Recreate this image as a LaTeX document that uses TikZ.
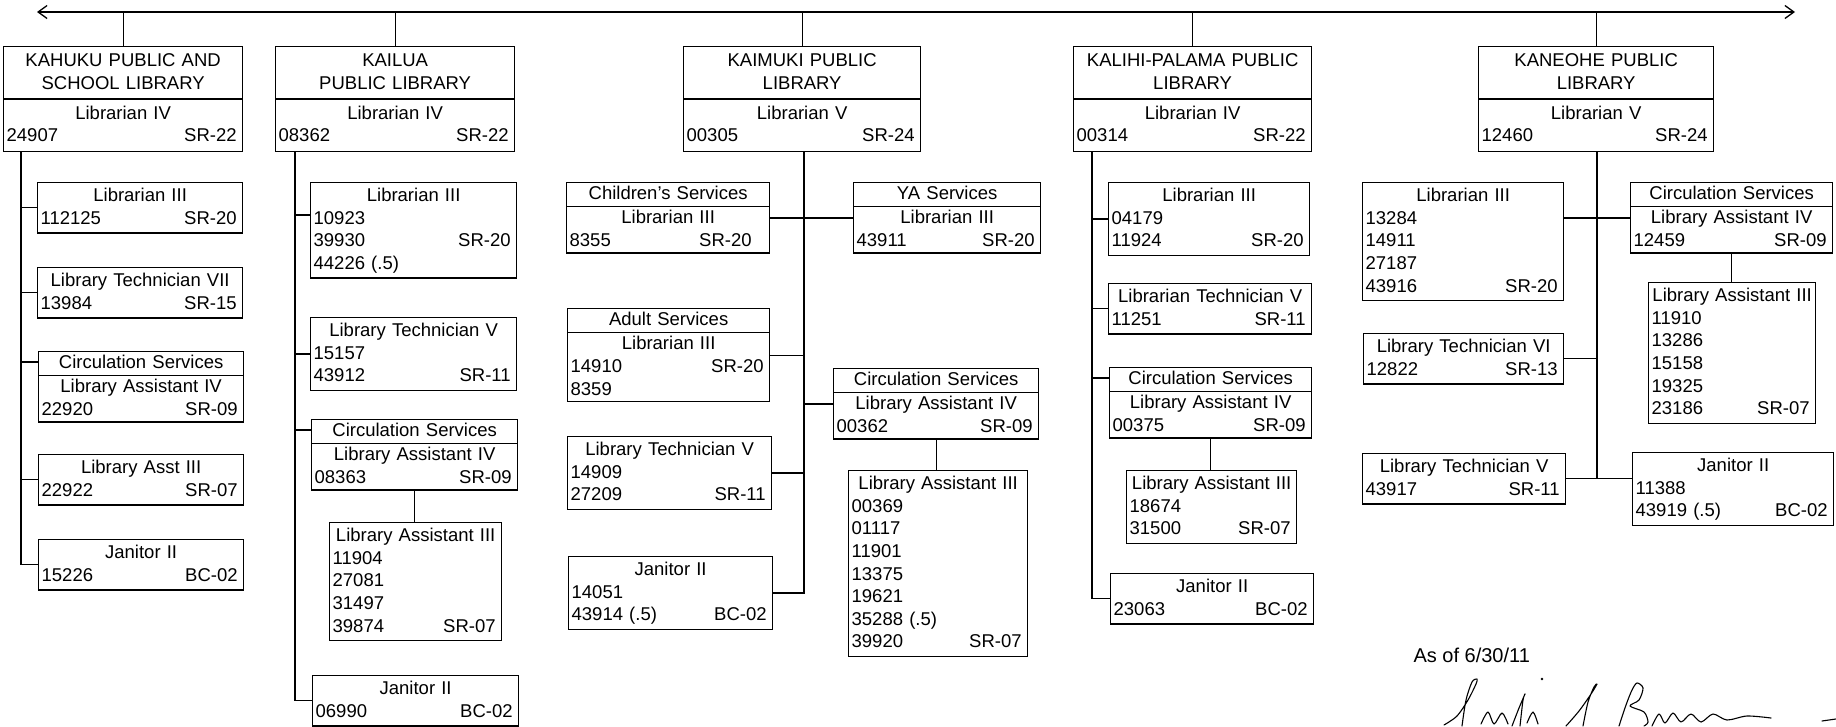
\documentclass[tikz,border=0pt]{standalone}
\usepackage{fontspec}
\setmainfont{Liberation Sans}
\usetikzlibrary{arrows.meta}
\usetikzlibrary{shapes.multipart}
\usetikzlibrary{positioning}
\setlength{\parindent}{0pt}
\newcommand\chartfont{\fontsize{18.5}{22.6}\selectfont}
\newcommand\lstrut{\rule[-6pt]{0pt}{22.6pt}}
\newcommand\ptitle[1]{\lstrut\hspace*{\fill}#1\hspace*{\fill}\null}
\newcommand\prow[2]{\lstrut#1\hfill#2\hspace*{3pt}\null}
\tikzset{>={Straight Barb[length=9pt,width=13pt]}}
\tikzset{link/.style = {line width=1.3pt}}
\tikzset{post/.style = {draw, line width=1.3pt, anchor=north west, inner xsep=3pt,
                        inner ysep=2.5pt, text width=#1, align=left, font=\chartfont}}
\tikzset{head/.style = {post=#1, rectangle split, rectangle split parts=2, inner ysep=2.9pt}}
\tikzset{unit/.style = {post=#1, rectangle split, rectangle split parts=2, inner ysep=0pt}}
\tikzset{sig/.style = {line width=1.1pt, line cap=round, line join=round}}

\begin{document}
\begin{tikzpicture}[x=1pt, y=-1pt]
      \useasboundingbox (0,0) rectangle (1836,726);
      \coordinate (arrowL) at (37,12);
      \coordinate (arrowR) at (1795,12);
      \coordinate (kahukuT) at (21,0);
      \coordinate (kailuaT) at (295,0);
      \coordinate (kaimukiT) at (804,0);
      \coordinate (kalihiT) at (1092,0);
      \coordinate (kaneoheT) at (1597,0);

      % Kahuku
      \node [head=233] (kahuku) at (3,46) {\ptitle{KAHUKU PUBLIC AND}\\\ptitle{SCHOOL LIBRARY}
            \nodepart{two}\ptitle{Librarian IV}\\\prow{24907}{SR-22}};
      \node [post=199] (kahukuLib) at (37,182) {\ptitle{Librarian III}\\\prow{112125}{SR-20}};
      \node [post=199] (kahukuTech) at (37,267) {\ptitle{Library Technician VII}\\\prow{13984}{SR-15}};
      \node [unit=199] (kahukuCirc) at (38,351) {\ptitle{Circulation Services}
            \nodepart{two}\ptitle{Library Assistant IV}\\\prow{22920}{SR-09}};
      \node [post=199] (kahukuAsst) at (38,454) {\ptitle{Library Asst III}\\\prow{22922}{SR-07}};
      \node [post=199] (kahukuJan) at (38,539) {\ptitle{Janitor II}\\\prow{15226}{BC-02}};

      % Kailua
      \node [head=233] (kailua) at (275,46) {\ptitle{KAILUA}\\\ptitle{PUBLIC LIBRARY}
            \nodepart{two}\ptitle{Librarian IV}\\\prow{08362}{SR-22}};
      \node [post=200] (kailuaLib) at (310,182) {\ptitle{Librarian III}\\\prow{10923}{}\\
            \prow{39930}{SR-20}\\\prow{44226 (.5)}{}};
      \node [post=200] (kailuaTech) at (310,317) {\ptitle{Library Technician V}\\\prow{15157}{}\\
            \prow{43912}{SR-11}};
      \node [unit=200] (kailuaCirc) at (311,419) {\ptitle{Circulation Services}
            \nodepart{two}\ptitle{Library Assistant IV}\\\prow{08363}{SR-09}};
      \node [post=166] (kailuaAsst) at (329,522) {\ptitle{Library Assistant III}\\\prow{11904}{}\\
            \prow{27081}{}\\\prow{31497}{}\\\prow{39874}{SR-07}};
      \node [post=200] (kailuaJan) at (312,675) {\ptitle{Janitor II}\\\prow{06990}{BC-02}};

      % Kaimuki
      \node [head=231] (kaimuki) at (683,46) {\ptitle{KAIMUKI PUBLIC}\\\ptitle{LIBRARY}
            \nodepart{two}\ptitle{Librarian V}\\\prow{00305}{SR-24}};
      \node [unit=197] (kaimukiChild) at (566,182) {\ptitle{Children's Services}
            \nodepart{two}\ptitle{Librarian III}\\\prow{8355}{SR-20\hspace*{12pt}}};
      \node [unit=181] (kaimukiYA) at (853,182) {\ptitle{YA Services}
            \nodepart{two}\ptitle{Librarian III}\\\prow{43911}{SR-20}};
      \node [unit=196] (kaimukiAdult) at (567,308) {\ptitle{Adult Services}
            \nodepart{two}\ptitle{Librarian III}\\\prow{14910}{SR-20}\\\prow{8359}{}};
      \node [unit=199] (kaimukiCirc) at (833,368) {\ptitle{Circulation Services}
            \nodepart{two}\ptitle{Library Assistant IV}\\\prow{00362}{SR-09}};
      \node [post=173] (kaimukiAsst) at (848,470) {\ptitle{Library Assistant III}\\\prow{00369}{}\\
            \prow{01117}{}\\\prow{11901}{}\\\prow{13375}{}\\\prow{19621}{}\\
            \prow{35288 (.5)}{}\\\prow{39920}{SR-07}};
      \node [post=198] (kaimukiTech) at (567,436) {\ptitle{Library Technician V}\\\prow{14909}{}\\
            \prow{27209}{SR-11}};
      \node [post=198] (kaimukiJan) at (568,556) {\ptitle{Janitor II}\\\prow{14051}{}\\
            \prow{43914 (.5)}{BC-02}};

      % Kalihi-Palama
      \node [head=232] (kalihi) at (1073,46) {\ptitle{KALIHI-PALAMA PUBLIC}\\\ptitle{LIBRARY}
            \nodepart{two}\ptitle{Librarian IV}\\\prow{00314}{SR-22}};
      \node [post=195] (kalihiLib) at (1108,182) {\ptitle{Librarian III}\\\prow{04179}{}\\
            \prow{11924}{SR-20}};
      \node [post=197] (kalihiTech) at (1108,283) {\ptitle{Librarian Technician V}\\\prow{11251}{SR-11}};
      \node [unit=196] (kalihiCirc) at (1109,367) {\ptitle{Circulation Services}
            \nodepart{two}\ptitle{Library Assistant IV}\\\prow{00375}{SR-09}};
      \node [post=164] (kalihiAsst) at (1126,470) {\ptitle{Library Assistant III}\\\prow{18674}{}\\
            \prow{31500}{SR-07}};
      \node [post=197] (kalihiJan) at (1110,573) {\ptitle{Janitor II}\\\prow{23063}{BC-02}};

      % Kaneohe
      \node [head=229] (kaneohe) at (1478,46) {\ptitle{KANEOHE PUBLIC}\\\ptitle{LIBRARY}
            \nodepart{two}\ptitle{Librarian V}\\\prow{12460}{SR-24}};
      \node [post=195] (kaneoheLib) at (1362,182) {\ptitle{Librarian III}\\\prow{13284}{}\\
            \prow{14911}{}\\\prow{27187}{}\\\prow{43916}{SR-20}};
      \node [unit=196] (kaneoheCirc) at (1630,182) {\ptitle{Circulation Services}
            \nodepart{two}\ptitle{Library Assistant IV}\\\prow{12459}{SR-09}};
      \node [post=161] (kaneoheAsst) at (1648,282) {\ptitle{Library Assistant III}\\\prow{11910}{}\\
            \prow{13286}{}\\\prow{15158}{}\\\prow{19325}{}\\\prow{23186}{SR-07}};
      \node [post=194] (kaneoheTechVI) at (1363,333) {\ptitle{Library Technician VI}\\\prow{12822}{SR-13}};
      \node [post=197] (kaneoheTechV) at (1362,453) {\ptitle{Library Technician V}\\\prow{43917}{SR-11}};
      \node [post=195] (kaneoheJan) at (1632,452) {\ptitle{Janitor II}\\\prow{11388}{}\\
            \prow{43919 (.5)}{BC-02}};

      \node [anchor=west, font=\fontsize{20}{24}\selectfont] (asof) at (1410,655) {As of 6/30/11};

      \coordinate (kahukuCircIn) at ([yshift=-11pt]kahukuCirc.north west);
      \coordinate (kailuaLibIn) at ([yshift=-33pt]kailuaLib.north west);
      \coordinate (kailuaCircIn) at ([yshift=-11pt]kailuaCirc.north west);
      \coordinate (kalihiCircIn) at ([yshift=-11pt]kalihiCirc.north west);

      \draw [link, <->] (arrowL) -- (arrowR);
      \foreach \lib in {kahuku, kailua, kaimuki, kalihi, kaneohe}
        \draw [link] (\lib.north) -- (\lib.north |- arrowL);

      \draw [link] (kahuku.south -| kahukuT) |- (kahukuJan.west);
      \foreach \post in {kahukuLib, kahukuTech, kahukuAsst}
        \draw [link] (kahukuT |- \post.west) -- (\post.west);
      \draw [link] (kahukuT |- kahukuCircIn) -- (kahukuCircIn);

      \draw [link] (kailua.south -| kailuaT) |- (kailuaJan.west);
      \draw [link] (kailuaT |- kailuaLibIn) -- (kailuaLibIn);
      \draw [link] (kailuaT |- kailuaTech.west) -- (kailuaTech.west);
      \draw [link] (kailuaT |- kailuaCircIn) -- (kailuaCircIn);
      \draw [link] (kailuaCirc.south) -- (kailuaCirc.south |- kailuaAsst.north);

      \draw [link] (kaimuki.south -| kaimukiT) |- (kaimukiJan.east);
      \draw [link] (kaimukiChild.east) -- (kaimukiYA.west);
      \draw [link] (kaimukiAdult.east) -- (kaimukiAdult.east -| kaimukiT);
      \draw [link] (kaimukiTech.east) -- (kaimukiTech.east -| kaimukiT);
      \draw [link] (kaimukiT |- kaimukiCirc.west) -- (kaimukiCirc.west);
      \draw [link] (kaimukiCirc.south) -- (kaimukiCirc.south |- kaimukiAsst.north);

      \draw [link] (kalihi.south -| kalihiT) |- (kalihiJan.west);
      \foreach \post in {kalihiLib, kalihiTech}
        \draw [link] (kalihiT |- \post.west) -- (\post.west);
      \draw [link] (kalihiT |- kalihiCircIn) -- (kalihiCircIn);
      \draw [link] (kalihiCirc.south) -- (kalihiCirc.south |- kalihiAsst.north);

      \draw [link] (kaneohe.south -| kaneoheT) -- (kaneoheT |- kaneoheTechV.east);
      \draw [link] (kaneoheLib.east |- kaneoheCirc.west) -- (kaneoheCirc.west);
      \draw [link] (kaneoheTechVI.east) -- (kaneoheTechVI.east -| kaneoheT);
      \draw [link] (kaneoheTechV.east) -- (kaneoheTechV.east -| kaneoheJan.west);
      \draw [link] (kaneoheCirc.south) -- (kaneoheCirc.south |- kaneoheAsst.north);

      \draw [sig] plot [smooth] coordinates {(1444,725) (1457,716) (1468,700) (1476,684) (1477,679)
            (1472,682) (1466,700) (1462,726)};
      \draw [sig] plot [smooth] coordinates {(1481,724) (1488,712) (1494,724) (1502,713) (1508,724)};
      \draw [sig] plot [smooth] coordinates {(1512,726) (1519,708) (1525,694) (1523,700) (1520,726)};
      \draw [sig] plot [smooth] coordinates {(1527,723) (1533,712) (1538,724)};
      \fill (1542,679) circle [radius=1.3];
      \draw [sig] plot [smooth] coordinates {(1566,726) (1579,711) (1591,694) (1597,684)
            (1594,687) (1588,702) (1583,726)};
      \draw [sig] plot [smooth] coordinates {(1619,726) (1626,705) (1632,690) (1637,683)
            (1643,688) (1639,700) (1630,706) (1644,712) (1648,722) (1644,726)};
      \draw [sig] plot [smooth] coordinates {(1652,726) (1659,714) (1665,723) (1673,713) (1681,722)
            (1691,714) (1701,722) (1713,714) (1727,720) (1747,716) (1771,718)};
      \draw [sig] (1822,721) -- (1836,719);
\end{tikzpicture}
\end{document}
